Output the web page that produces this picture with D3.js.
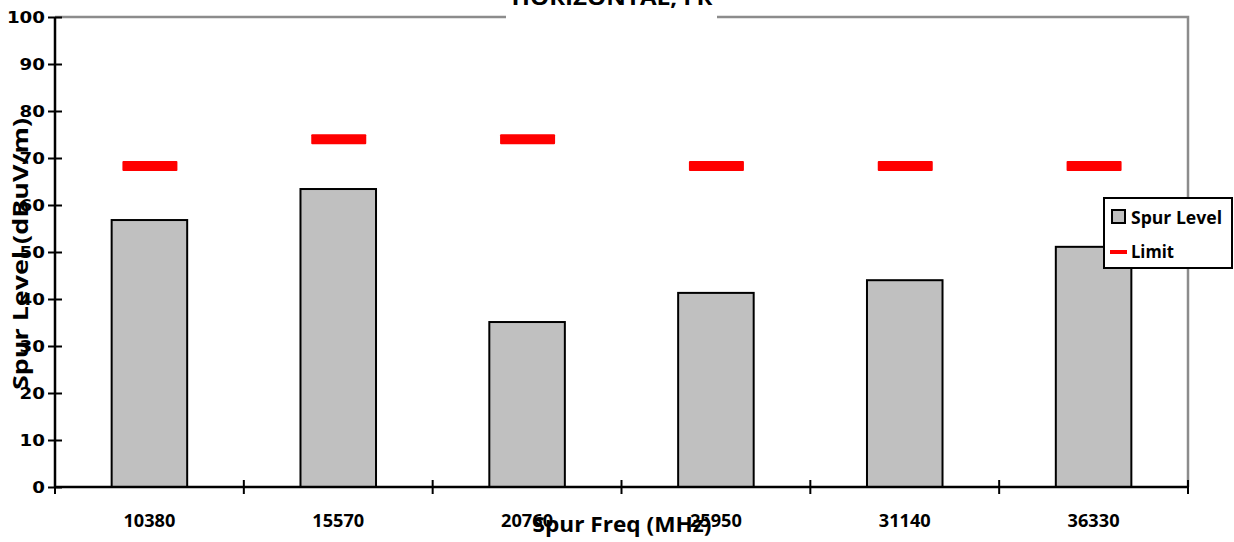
<!DOCTYPE html>
<html><head><meta charset="utf-8">
<script src="https://cdn.jsdelivr.net/npm/d3@7"></script>
<style>body{margin:0;background:#fff}svg{display:block;font-family:"Open Sans",sans-serif;font-weight:700}</style>
</head><body><svg id="c" width="1234" height="542"></svg>
<script>
const categories = ["10380","15570","20760","25950","31140","36330"];
const spurLevel = [56.8, 63.4, 35.1, 41.3, 44.0, 51.1];
const limit = [68.3, 74.0, 74.0, 68.3, 68.3, 68.3];
const yTicks = [0,10,20,30,40,50,60,70,80,90,100];

const svg = d3.select("#c");
const L = 55, R = 1188, T = 17, B = 487;
const x = d3.scaleBand().domain(categories).range([L, R]).paddingInner(0.6).paddingOuter(0.3);
const xb = d3.scaleBand().domain(categories).range([L, R]);
const y = d3.scaleLinear().domain([0, 100]).range([B, T]);

// plot border (top & right gray)
svg.append("path").attr("d", `M${L},${T}H${R}V${B}`).attr("fill","none").attr("stroke","#8c8c8c").attr("stroke-width",2.5);

// bars
svg.selectAll("rect.bar").data(categories).join("rect").attr("class","bar")
  .attr("x", d => x(d)).attr("width", x.bandwidth())
  .attr("y", (d,i) => y(spurLevel[i])).attr("height", (d,i) => y(0) - y(spurLevel[i]))
  .attr("fill","#c0c0c0").attr("stroke","#000").attr("stroke-width",2);

// limit markers
svg.selectAll("rect.lim").data(categories).join("rect").attr("class","lim")
  .attr("x", d => xb(d) + xb.bandwidth()/2 - 27).attr("width", 55)
  .attr("y", (d,i) => y(limit[i]) - 5).attr("height", 10).attr("rx",1)
  .attr("fill","#ff0000");

// y axis
const ya = svg.append("g").attr("transform", `translate(${L},0)`)
  .call(d3.axisLeft(y).tickValues(yTicks).tickSize(7).tickPadding(10));
ya.selectAll(".tick line").attr("x2", 7).attr("x1",-7).attr("stroke","#000").attr("stroke-width",2);
ya.select(".domain").attr("stroke","#000").attr("stroke-width",2.5).attr("d", `M0,${T}V${B}`);
ya.selectAll("text").attr("font-size",16).attr("font-family","'DejaVu Sans',sans-serif").attr("font-weight","bold")
  .attr("fill","#000").attr("x",-10).attr("dy","0.36em")
  .attr("textLength", d => String(d).length * 12.7).attr("lengthAdjust","spacingAndGlyphs");

// x axis
const xa = svg.append("g").attr("transform", `translate(0,${B})`);
xa.append("line").attr("x1",L).attr("x2",R).attr("stroke","#000").attr("stroke-width",2.5);
const bounds = categories.map(d => xb(d)).concat([R]);
xa.selectAll("line.t").data(bounds).join("line").attr("class","t")
  .attr("x1", d => d).attr("x2", d => d).attr("y1",-7).attr("y2",7).attr("stroke","#000").attr("stroke-width",2);
xa.selectAll("text").data(categories).join("text")
  .attr("x", d => xb(d) + xb.bandwidth()/2).attr("y", 40).attr("text-anchor","middle")
  .attr("font-size",17).attr("textLength",52).attr("lengthAdjust","spacingAndGlyphs").text(d => d);

// title
svg.append("rect").attr("x",506).attr("y",0).attr("width",211).attr("height",24).attr("fill","#fff");
svg.append("text").attr("x",612).attr("y",5).attr("text-anchor","middle").attr("font-size",22)
  .attr("textLength",201).attr("lengthAdjust","spacingAndGlyphs").text("HORIZONTAL, FR");

// axis titles
svg.append("text").attr("x",622).attr("y",532).attr("text-anchor","middle").attr("font-size",22)
  .attr("textLength",179).attr("lengthAdjust","spacingAndGlyphs").text("Spur Freq (MHz)");
svg.append("text").attr("transform","translate(28,254) rotate(-90)").attr("text-anchor","middle").attr("font-size",22)
  .attr("textLength",272).attr("lengthAdjust","spacingAndGlyphs").text("Spur Level (dBuV/m)");

// legend
const lg = svg.append("g");
lg.append("rect").attr("x",1104).attr("y",198).attr("width",128).attr("height",70).attr("fill","#fff").attr("stroke","#000").attr("stroke-width",2);
lg.append("rect").attr("x",1112).attr("y",210).attr("width",13).attr("height",13).attr("fill","#c0c0c0").attr("stroke","#000").attr("stroke-width",2);
lg.append("text").attr("x",1131).attr("y",224).attr("font-size",17).attr("textLength",91).attr("lengthAdjust","spacingAndGlyphs").text("Spur Level");
lg.append("rect").attr("x",1110).attr("y",250).attr("width",17).attr("height",4).attr("fill","#ff0000");
lg.append("text").attr("x",1131).attr("y",258).attr("font-size",17).attr("textLength",43).attr("lengthAdjust","spacingAndGlyphs").text("Limit");
</script></body></html>
